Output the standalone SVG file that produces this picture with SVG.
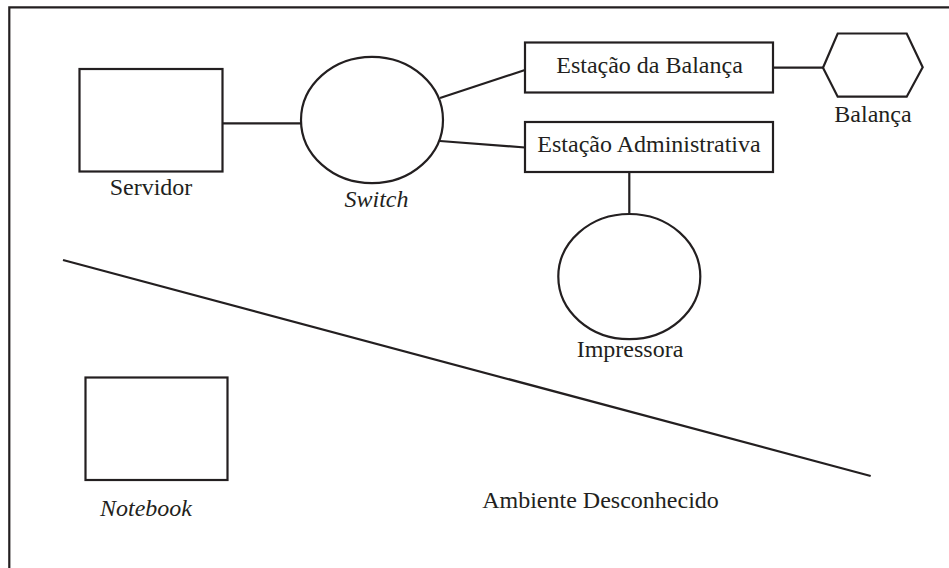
<svg xmlns="http://www.w3.org/2000/svg" width="949" height="568" viewBox="0 0 949 568">
<style>
.s{fill:none;stroke:#231f20;stroke-width:2.2}
.b{fill:#fff;stroke:#231f20;stroke-width:2.2}
.t{fill:#231f20;text-anchor:middle;font-size:24px;font-family:'Liberation Serif',serif}
.i{font-style:italic}
</style>
<rect width="949" height="568" fill="#fff"/>
<g id="frame">
<polyline class="s" points="9.3,568 9.3,7.3 949,7.3"/>
</g>
<g id="connectors">
<line class="s" x1="222" y1="123.3" x2="302" y2="123.3"/>
<line class="s" x1="440" y1="98" x2="525" y2="70"/>
<line class="s" x1="440" y1="141" x2="525" y2="147.5"/>
<line class="s" x1="773" y1="67.7" x2="823" y2="67.7"/>
<line class="s" x1="629.3" y1="172" x2="629.3" y2="214"/>
</g>
<g id="divider">
<line class="s" x1="63" y1="260" x2="870.7" y2="476"/>
</g>
<g id="servidor">
<rect class="b" x="79.5" y="69" width="143" height="102.5"/>
<text class="t" x="151" y="195">Servidor</text>
</g>
<g id="switch">
<ellipse class="b" cx="372" cy="120" rx="71" ry="63.2"/>
<text class="t i" x="376.5" y="207">Switch</text>
</g>
<g id="estacao-balanca">
<rect class="b" x="525" y="42.5" width="248" height="50"/>
<text class="t" x="649.5" y="73">Estação da Balança</text>
</g>
<g id="balanca">
<polygon class="b" points="823,67.7 837.7,33.5 906.7,33.5 922.7,67.2 906.7,96.7 837.7,96.7"/>
<text class="t" x="873" y="122">Balança</text>
</g>
<g id="estacao-admin">
<rect class="b" x="525" y="122" width="248" height="50"/>
<text class="t" x="649" y="152">Estação Administrativa</text>
</g>
<g id="impressora">
<ellipse class="b" cx="629.3" cy="276.6" rx="71" ry="62.6"/>
<text class="t" x="630" y="357.3">Impressora</text>
</g>
<g id="notebook">
<rect class="b" x="85.5" y="377.5" width="142" height="102.5"/>
<text class="t i" x="146" y="516">Notebook</text>
</g>
<g id="ambiente">
<text class="t" x="600.5" y="508">Ambiente Desconhecido</text>
</g>
</svg>
